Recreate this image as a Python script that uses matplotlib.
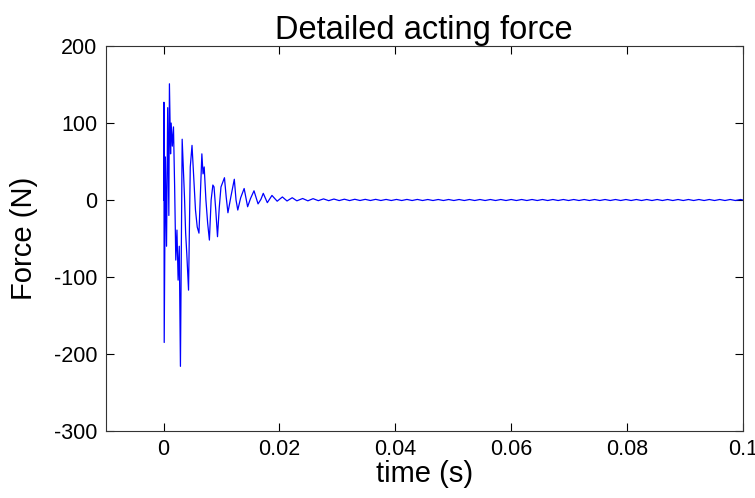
import matplotlib
matplotlib.use('Agg')
import matplotlib.pyplot as plt

# transient part (time in s, force in N)
t_start = [0.0000, 0.00005, 0.0001, 0.0003, 0.0005, 0.0007, 0.0009, 0.0010,
           0.0012, 0.0013, 0.0015, 0.0017, 0.0019, 0.0021, 0.0023, 0.0025,
           0.0027, 0.0029, 0.0032, 0.0034, 0.0036, 0.0038, 0.0040, 0.0043,
           0.0046, 0.0049, 0.0052, 0.0055, 0.0058, 0.0061, 0.0064, 0.0066,
           0.0068, 0.0070, 0.0073, 0.0076, 0.0079, 0.0082, 0.0085, 0.0087,
           0.0090, 0.0093, 0.0096, 0.0099, 0.0105, 0.0108, 0.0111, 0.0116,
           0.0122, 0.0125, 0.0128, 0.0133, 0.0139, 0.0145, 0.0150, 0.0156,
           0.0163, 0.0168, 0.0172, 0.0179, 0.0187, 0.0196, 0.0205, 0.0213,
           0.0222, 0.0230]
f_start = [0, 127, -185, 56, -60, 120, -20, 151,
           60, 100, 70, 95, 17, -78, -39, -104,
           -60, -216, 79, 43, 4, -43, -70, -117,
           43, 71, 30, -13, -35, -43, 20, 60,
           34, 43, 0, -30, -52, 0, 19.5, 17,
           -13, -47.6, -10, 17, 29, 4, -16.5, 4,
           27, 0, -13, 3, 15, -8.7, 2, 12,
           -5, 1, 8.7, -3.4, 6, -1.5, 4, -1.2,
           3, -1]

# small residual ripple afterwards
t_tail = [0.0240, 0.0249, 0.0258, 0.0267, 0.0276, 0.0285, 0.0294, 0.0303,
          0.0312, 0.0321, 0.0330, 0.0339, 0.0348, 0.0357, 0.0366, 0.0375,
          0.0384, 0.0393, 0.0402, 0.0411, 0.0420, 0.0429, 0.0438, 0.0447,
          0.0456, 0.0465, 0.0474, 0.0483, 0.0492, 0.0501, 0.0510, 0.0519,
          0.0528, 0.0537, 0.0546, 0.0555, 0.0564, 0.0573, 0.0582, 0.0591,
          0.0600, 0.0609, 0.0618, 0.0627, 0.0636, 0.0645, 0.0654, 0.0663,
          0.0672, 0.0681, 0.0690, 0.0699, 0.0708, 0.0717, 0.0726, 0.0735,
          0.0744, 0.0753, 0.0762, 0.0771, 0.0780, 0.0789, 0.0798, 0.0807,
          0.0816, 0.0825, 0.0834, 0.0843, 0.0852, 0.0861, 0.0870, 0.0879,
          0.0888, 0.0897, 0.0906, 0.0915, 0.0924, 0.0933, 0.0942, 0.0951,
          0.0960, 0.0969, 0.0978, 0.0987, 0.0996, 0.1000]
f_tail = [2.0, -1.0, 1.8, -0.8, 1.5, -0.8, 1.3, -0.7,
          1.1, -0.7, 1.0, -0.6, 0.9, -0.6, 0.9, -0.6,
          0.8, -0.6, 0.8, -0.6, 0.8, -0.6, 0.8, -0.6,
          0.7, -0.6, 0.7, -0.6, 0.7, -0.6, 0.7, -0.6,
          0.7, -0.6, 0.7, -0.6, 0.7, -0.6, 0.7, -0.6,
          0.7, -0.6, 0.7, -0.6, 0.7, -0.6, 0.7, -0.6,
          0.7, -0.6, 0.7, -0.6, 0.7, -0.6, 0.7, -0.6,
          0.7, -0.6, 0.7, -0.6, 0.7, -0.6, 0.7, -0.6,
          0.7, -0.6, 0.7, -0.6, 0.7, -0.6, 0.7, -0.6,
          0.7, -0.6, 0.7, -0.6, 0.7, -0.6, 0.7, -0.6,
          0.7, -0.6, 0.7, -0.6, 0.7, 0.0]

x_ticks = [0, 0.02, 0.04, 0.06, 0.08, 0.1]
x_labels = ['0', '0.02', '0.04', '0.06', '0.08', '0.1']
y_ticks = [-300, -200, -100, 0, 100, 200]

plt.rcParams['font.family'] = ['Liberation Sans', 'DejaVu Sans']
plt.rcParams['axes.unicode_minus'] = False

fig = plt.figure(figsize=(7.55, 4.98), dpi=100)
ax = fig.add_axes([0.140, 0.1345, 0.844, 0.773])

ax.plot(t_start + t_tail, f_start + f_tail, color='#0000ff', lw=0.9)

ax.set_xlim(-0.01, 0.1)
ax.set_ylim(-300, 200)
ax.set_xticks(x_ticks)
ax.set_xticklabels(x_labels)
ax.set_yticks(y_ticks)
ax.tick_params(direction='in', length=6, width=0.8, labelsize=15.5,
               top=True, right=True, pad=6)
for s in ax.spines.values():
    s.set_linewidth(0.8)
    s.set_color('#333333')

ax.set_title('Detailed acting force', fontsize=23.5, pad=5)
ax.set_xlabel('time (s)', fontsize=21, labelpad=0)
ax.set_ylabel('Force (N)', fontsize=21)
ax.yaxis.set_label_coords(-0.106, 0.5)

fig.savefig('out.png', dpi=100)
